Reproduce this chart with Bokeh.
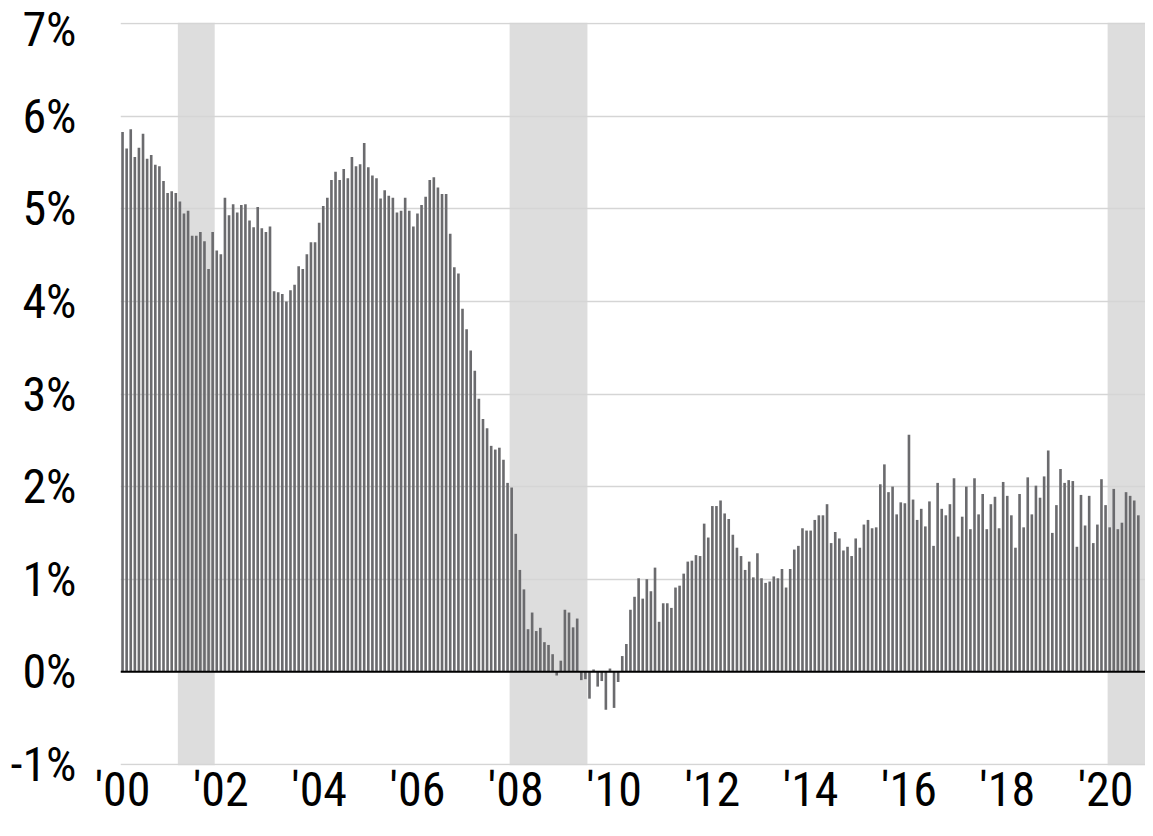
from bokeh.plotting import figure
from bokeh.models import FixedTicker, BoxAnnotation, Span, Range1d
from bokeh.embed import file_html
from bokeh.resources import INLINE

# Monthly values (%), Jan 2000 .. Sep 2020
y2000 = [5.83, 5.65, 5.86, 5.56, 5.66, 5.81, 5.54, 5.58, 5.475, 5.46, 5.30, 5.17]
y2001 = [5.19, 5.17, 5.08, 4.95, 4.98, 4.71, 4.71, 4.75, 4.65, 4.35, 4.75, 4.55]
y2002 = [4.51, 5.12, 4.93, 5.05, 4.96, 5.04, 5.05, 4.875, 4.80, 5.02, 4.79, 4.75]
y2003 = [4.81, 4.11, 4.10, 4.08, 4.00, 4.12, 4.18, 4.38, 4.35, 4.51, 4.64, 4.64]
y2004 = [4.85, 5.03, 5.12, 5.31, 5.40, 5.31, 5.43, 5.33, 5.56, 5.46, 5.48, 5.71]
y2005 = [5.45, 5.36, 5.33, 5.11, 5.20, 5.14, 5.12, 4.96, 4.98, 5.12, 4.98, 4.81]
y2006 = [4.95, 5.04, 5.13, 5.31, 5.34, 5.23, 5.16, 5.16, 4.73, 4.37, 4.30, 3.92]
y2007 = [3.70, 3.47, 3.25, 2.95, 2.73, 2.63, 2.44, 2.40, 2.42, 2.29, 2.04, 1.99]
y2008 = [1.49, 1.10, 0.89, 0.46, 0.64, 0.44, 0.475, 0.32, 0.29, 0.19, -0.04, 0.12]
y2009 = [0.67, 0.64, 0.48, 0.575, -0.09, -0.08, -0.29, 0.025, -0.16, -0.10, -0.41, 0.035]
y2010 = [-0.39, -0.11, 0.17, 0.30, 0.67, 0.81, 1.01, 0.79, 1.00, 0.87, 1.125, 0.54]
y2011 = [0.74, 0.74, 0.69, 0.91, 0.93, 1.06, 1.19, 1.20, 1.26, 1.25, 1.60, 1.45]
y2012 = [1.79, 1.79, 1.85, 1.71, 1.65, 1.48, 1.34, 1.25, 1.10, 1.19, 1.02, 1.28]
y2013 = [1.01, 0.96, 0.975, 1.03, 1.01, 1.11, 0.91, 1.11, 1.32, 1.36, 1.55, 1.525]
y2014 = [1.525, 1.64, 1.69, 1.69, 1.81, 1.39, 1.51, 1.44, 1.31, 1.35, 1.25, 1.44]
y2015 = [1.34, 1.59, 1.64, 1.55, 1.56, 2.025, 2.24, 1.94, 2.00, 1.70, 1.83, 1.82]
y2016 = [2.56, 1.86, 1.64, 1.76, 1.57, 1.84, 1.36, 2.04, 1.76, 1.69, 1.81, 2.09]
y2017 = [1.46, 1.675, 2.00, 1.54, 2.09, 1.70, 1.92, 1.54, 1.81, 1.89, 1.55, 2.05]
y2018 = [1.90, 1.69, 1.34, 1.92, 1.56, 2.10, 1.70, 2.01, 1.88, 2.11, 2.39, 1.50]
y2019 = [1.80, 2.19, 2.04, 2.07, 2.06, 1.35, 1.91, 1.58, 1.90, 1.39, 1.59, 2.08]
y2020 = [1.80, 1.56, 1.975, 1.54, 1.61, 1.94, 1.90, 1.85, 1.69]

values = (y2000 + y2001 + y2002 + y2003 + y2004 + y2005 + y2006 + y2007 + y2008 + y2009
          + y2010 + y2011 + y2012 + y2013 + y2014 + y2015 + y2016 + y2017 + y2018 + y2019 + y2020)
months = list(range(len(values)))  # month index from Jan 2000

tick_years = [2000, 2002, 2004, 2006, 2008, 2010, 2012, 2014, 2016, 2018, 2020]
tick_labels = ["'00", "'02", "'04", "'06", "'08", "'10", "'12", "'14", "'16", "'18", "'20"]
y_ticks = [-1, 0, 1, 2, 3, 4, 5, 6, 7]
y_labels = ["-1%", "0%", "1%", "2%", "3%", "4%", "5%", "6%", "7%"]

# recessions (year, month) start / end; None = ongoing
rec_start = [(2001, 3), (2007, 12), (2020, 2)]
rec_end = [(2001, 11), (2009, 6), None]

def midx(ym):
    return (ym[0] - 2000) * 12 + (ym[1] - 1)

FONT = "Roboto Condensed"
n = len(values)

p = figure(width=1145, height=820, x_range=Range1d(-0.5, n + 0.75), y_range=Range1d(-1.012, 7.012),
           output_backend="svg", toolbar_location=None,
           min_border_left=120, min_border_right=0, min_border_top=22, min_border_bottom=0)
p.outline_line_color = None
p.background_fill_color = "white"

for s, e in zip(rec_start, rec_end):
    left = midx(s) - 0.5
    right = (midx(e) + 0.5) if e else None
    box = BoxAnnotation(left=left, right=right, fill_color="#dddddd", fill_alpha=1.0,
                        line_color=None, level="image")
    p.add_layout(box)

p.xgrid.visible = False
p.ygrid.ticker = FixedTicker(ticks=y_ticks)
p.ygrid.grid_line_color = "#d5d5d5"
p.ygrid.grid_line_width = 1.6

p.vbar(x=months, top=values, bottom=0, width=0.64, fill_color="#6b6b6e", line_color=None)

p.add_layout(Span(location=0, dimension="width", line_color="black", line_width=2))

p.yaxis.ticker = FixedTicker(ticks=y_ticks)
p.yaxis.major_label_overrides = {t: l for t, l in zip(y_ticks, y_labels)}
p.xaxis.ticker = FixedTicker(ticks=[(y - 2000) * 12 for y in tick_years])
p.xaxis.major_label_overrides = {(y - 2000) * 12: l for y, l in zip(tick_years, tick_labels)}

for ax in (p.xaxis, p.yaxis):
    ax.axis_line_color = None
    ax.major_tick_line_color = None
    ax.minor_tick_line_color = None
    ax.major_tick_out = 0
    ax.major_tick_in = 0
    ax.major_label_text_font = FONT
    ax.major_label_text_font_size = "48px"
    ax.major_label_text_color = "black"
p.yaxis.major_label_standoff = 44
p.xaxis.major_label_standoff = -5

open("out.html", "w").write(file_html(p, INLINE))
